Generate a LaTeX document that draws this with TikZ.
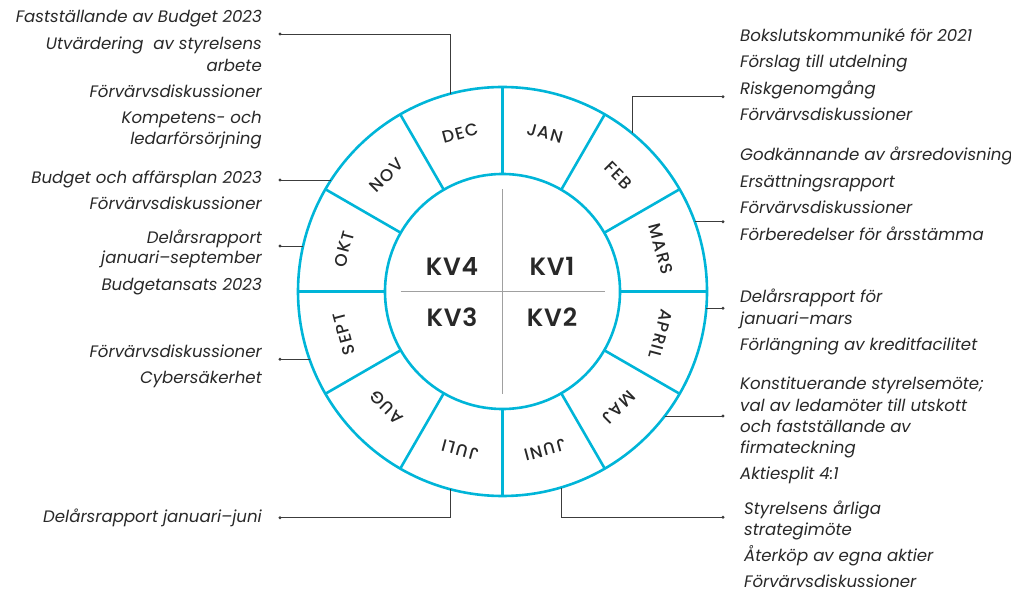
\documentclass[tikz,border=0pt]{standalone}
\usepackage{fontspec}
\setmainfont{Poppins}
\newfontfamily\labfont{Poppins Italic}
\newfontfamily\monfont[LetterSpace=8]{Poppins Medium}
\newfontfamily\kvfont[LetterSpace=3]{Poppins SemiBold}
\usetikzlibrary{calc}
\definecolor{ring}{RGB}{0,181,216}
\definecolor{ink}{RGB}{40,40,40}
\definecolor{conn}{RGB}{60,60,60}
\definecolor{cross}{RGB}{160,160,160}
\tikzset{
  lab/.style={font=\labfont\fontsize{16.6}{19}\selectfont, text=ink, inner sep=0pt},
  labL/.style={lab, anchor=mid east},
  labR/.style={lab, anchor=mid west},
  month/.style={font=\monfont\fontsize{17}{19}\selectfont, text=ink, inner sep=0pt},
  kv/.style={font=\kvfont\fontsize{25}{28}\selectfont, text=ink, inner sep=0pt},
  ringline/.style={draw=ring, line width=2.6pt},
  crossline/.style={draw=cross, line width=1.2pt},
  connline/.style={draw=conn, line width=0.8pt},
  dotnode/.style={circle, fill=conn, inner sep=0pt, minimum size=3.2pt}
}
\begin{document}
\begin{tikzpicture}[x=1pt,y=1pt]
\path[use as bounding box] (0,0) rectangle (1011,592);
\coordinate (C) at (502.5,300.5);
% ring
\draw[ringline] (C) circle[radius=204.5];
\draw[ringline] (C) circle[radius=117.5];
\foreach \a in {0,30,...,330}
  \draw[ringline] ($(C)+(\a:117.5)$) -- ($(C)+(\a:204.5)$);
% cross
\draw[crossline] ($(C)+(-102,0)$) -- ($(C)+(102,0)$);
\draw[crossline] ($(C)+(0,-102)$) -- ($(C)+(0,102)$);
% quarters
\node[kv] (kv4) at (452,325.5) {KV4};
\node[kv] (kv1) at (552,325.5) {KV1};
\node[kv] (kv3) at (452,274.5) {KV3};
\node[kv] (kv2) at (552,274.5) {KV2};
% months
\foreach \m/\a in {JAN/75,FEB/45,MARS/15,APRIL/-15,MAJ/-45,JUNI/-75,JULI/-105,AUG/-135,SEPT/-165,OKT/165,NOV/135,DEC/105}
  \node[month, rotate=\a-90] (m-\m) at ($(C)+(\a:164)$) {\m};
% circle attachment points
\coordinate (cDEC) at (450,498.1);
\coordinate (cNOV) at (331.1,412);
\coordinate (cOKT) at (303.1,346);
\coordinate (cSEPT) at (309.6,232.7);
\coordinate (cJULI) at (450,102.9);
\coordinate (cJUNI) at (561,104.5);
\coordinate (cMAJ) at (664.7,176);
\coordinate (cAPRIL) at (706.3,283.7);
\coordinate (cMARS) at (694.6,370.3);
\coordinate (cFEB) at (632,458.8);
% dots
\node[dotnode] (dDEC) at (280,558) {};
\node[dotnode] (dNOV) at (280,412) {};
\node[dotnode] (dOKT) at (280,346) {};
\node[dotnode] (dSEPT) at (280,232.7) {};
\node[dotnode] (dJULI) at (280,74.3) {};
\node[dotnode] (dJUNI) at (723,74.7) {};
\node[dotnode] (dMAJ) at (723,176) {};
\node[dotnode] (dAPRIL) at (723,283.7) {};
\node[dotnode] (dMARS) at (723,370.3) {};
\node[dotnode] (dFEB) at (723,495.3) {};
% connectors
\draw[connline] (cDEC) |- (dDEC.center);
\draw[connline] (cNOV) -- (dNOV.center);
\draw[connline] (cOKT) -- (dOKT.center);
\draw[connline] (cSEPT) -- (dSEPT.center);
\draw[connline] (cJULI) |- (dJULI.center);
\draw[connline] (cJUNI) |- (dJUNI.center);
\draw[connline] (cMAJ) -- (dMAJ.center);
\draw[connline] (cAPRIL) -- (dAPRIL.center);
\draw[connline] (cMARS) -- (dMARS.center);
\draw[connline] (cFEB) |- (dFEB.center);
% left texts
\node[labL] (l1) at (262,572) {Fastställande av Budget 2023};
\node[labL] (l2) at (262,545) {Utvärdering\ \ av styrelsens};
\node[labL] (l3) at (262,523) {arbete};
\node[labL] (l4) at (262,497) {Förvärvsdiskussioner};
\node[labL] (l5) at (262,471) {Kompetens- och};
\node[labL] (l6) at (262,450) {ledarförsörjning};
\node[labL] (l7) at (262,411) {Budget och affärsplan 2023};
\node[labL] (l8) at (262,385) {Förvärvsdiskussioner};
\node[labL] (l9) at (262,351) {Delårsrapport};
\node[labL] (l10) at (262,331) {januari–september};
\node[labL] (l11) at (262,304) {Budgetansats 2023};
\node[labL] (l12) at (262,237) {Förvärvsdiskussioner};
\node[labL] (l13) at (262,211) {Cybersäkerhet};
\node[labL] (l14) at (262,72) {Delårsrapport januari–juni};
% right texts
\node[labR] (r1) at (740,553) {Bokslutskommuniké för 2021};
\node[labR] (r2) at (740,527) {Förslag till utdelning};
\node[labR] (r3) at (740,500) {Riskgenomgång};
\node[labR] (r4) at (740,474) {Förvärvsdiskussioner};
\node[labR] (r5) at (740,434) {Godkännande av årsredovisning};
\node[labR] (r6) at (740,407) {Ersättningsrapport};
\node[labR] (r7) at (740,381) {Förvärvsdiskussioner};
\node[labR] (r8) at (740,354) {Förberedelser för årsstämma};
\node[labR] (r9) at (740,292) {Delårsrapport för};
\node[labR] (r10) at (740,270) {januari–mars};
\node[labR] (r11) at (740,244) {Förlängning av kreditfacilitet};
\node[labR] (r12) at (740,205) {Konstituerande styrelsemöte;};
\node[labR] (r13) at (740,183) {val av ledamöter till utskott};
\node[labR] (r14) at (740,162) {och fastställande av};
\node[labR] (r15) at (740,141) {firmateckning};
\node[labR] (r16) at (740,115) {Aktiesplit 4:1};
\node[labR] (r17) at (744,80) {Styrelsens årliga};
\node[labR] (r18) at (744,59) {strategimöte};
\node[labR] (r19) at (744,33) {Återköp av egna aktier};
\node[labR] (r20) at (744,7) {Förvärvsdiskussioner};
\end{tikzpicture}
\end{document}
